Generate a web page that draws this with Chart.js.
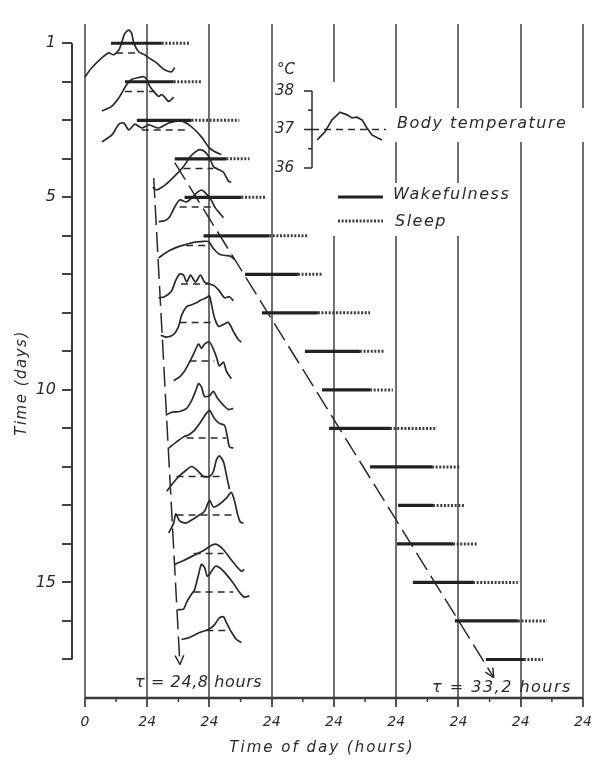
<!DOCTYPE html>
<html>
<head>
<meta charset="utf-8">
<script src="https://cdn.jsdelivr.net/npm/chart.js@4/dist/chart.umd.min.js"></script>
<style>
  body { margin: 0; background: #fff; }
  canvas { display: block; }
</style>
</head>
<body>
<canvas id="rhythmChart" width="603" height="765"></canvas>
<script>
// days of the experiment, one row each
const days = [1, 2, 3, 4, 5, 6, 7, 8, 9, 10, 11, 12, 13, 14, 15, 16, 17];
const dayLabels = [1, 5, 10, 15];

// hours on the running time axis (each line = one 24 h period)
const hourTicks = [0, 24, 48, 72, 96, 120, 144, 168, 192];
const hourLabels = ["0", "24", "24", "24", "24", "24", "24", "24", "24"];

// wakefulness onset, wake end (= sleep onset), sleep end, in hours
const wakeStart = [10.0, 15.4, 20.0, 34.6, 38.4, 45.7, 61.7, 68.2, 84.8, 91.4, 94.1, 109.9, 120.7, 120.3, 126.4, 142.6, 154.6];
const wakeEnd   = [29.6, 34.2, 41.1, 54.5, 60.3, 71.0, 82.1, 89.8, 106.0, 109.9, 117.6, 133.8, 134.2, 141.9, 149.6, 166.9, 169.2];
const sleepEnd  = [40.7, 44.9, 59.5, 63.4, 69.9, 86.0, 91.4, 109.9, 115.7, 118.7, 135.7, 144.9, 146.5, 151.1, 166.9, 178.1, 176.6];

// rectal temperature per day, [hour, °C]; 1 °C is drawn as one day row
const tempCurves = [
  [[0,36.38],[2.7,36.62],[6.5,36.87],[9.2,37.0],[11.1,36.95],[13.1,37.08],[14.2,37.28],[15.4,37.51],[16.9,37.59],[18.0,37.51],[18.8,37.26],[20.7,37.03],[23.0,36.95],[24.6,36.87],[27.6,36.74],[30.7,36.56],[33.4,36.51],[34.6,36.62]],
  [[6.5,36.49],[10.4,36.62],[13.4,36.87],[16.1,37.18],[18.0,37.31],[20.7,37.36],[22.7,37.38],[23.8,37.31],[25.0,37.13],[26.5,37.0],[28.4,36.87],[29.6,36.92],[30.7,36.85],[32.3,36.74],[34.2,36.85]],
  [[6.5,36.69],[10.4,36.87],[13.1,37.15],[15.0,37.18],[16.9,37.0],[19.2,37.15],[21.9,37.05],[24.6,37.13],[28.4,37.05],[32.3,37.18],[37.2,37.23],[41.1,37.08],[44.9,36.82],[47.6,36.56],[49.9,36.44],[52.6,36.36]],
  [[26.1,36.51],[27.6,36.44],[30.3,36.54],[32.6,36.67],[35.3,36.85],[38.0,37.05],[40.3,37.28],[42.2,37.41],[44.2,37.49],[46.1,37.44],[48.0,37.28],[49.5,37.05],[51.5,36.97],[53.4,36.9],[55.3,36.67],[56.4,36.64]],
  [[28.4,36.62],[30.7,36.64],[32.6,36.74],[34.6,37.0],[36.5,37.18],[39.2,37.13],[41.1,37.23],[43.0,37.36],[44.9,37.44],[46.5,37.36],[48.4,37.21],[50.3,36.97],[51.8,36.85],[53.4,36.72]],
  [[28.4,36.67],[29.6,36.74],[32.6,36.87],[36.1,36.97],[39.2,37.03],[41.9,37.08],[44.9,37.10],[47.6,37.10],[49.5,36.92],[51.8,36.77],[54.1,36.74],[56.1,36.72],[57.6,36.64]],
  [[28.4,36.64],[30.7,36.67],[33.4,36.82],[34.9,37.08],[36.5,37.26],[38.0,37.23],[39.2,37.05],[40.7,37.23],[42.6,37.05],[44.5,37.23],[46.1,37.05],[48.0,37.0],[49.9,36.95],[51.8,36.82],[53.8,36.64],[55.7,36.67],[57.2,36.56]],
  [[29.2,36.67],[31.5,36.62],[34.2,36.69],[36.1,36.9],[37.2,37.18],[39.2,37.41],[41.1,37.46],[43.0,37.51],[44.9,37.59],[46.8,37.64],[48.0,37.69],[48.8,37.46],[49.9,37.13],[51.5,36.9],[53.4,36.95],[55.3,37.0],[57.2,36.77],[59.1,36.56],[60.3,36.49]],
  [[34.2,36.49],[36.5,36.59],[38.4,36.74],[40.3,36.97],[42.2,37.23],[43.8,37.44],[44.9,37.33],[46.1,37.44],[48.0,37.49],[49.5,37.31],[50.7,37.10],[51.8,36.87],[53.4,36.97],[54.5,36.74],[56.4,36.54]],
  [[31.1,36.59],[33.4,36.67],[36.5,36.69],[39.2,36.77],[41.1,36.97],[42.6,37.21],[43.8,37.41],[44.9,37.33],[46.1,37.08],[48.0,37.10],[49.5,37.21],[51.1,37.03],[53.4,36.85],[55.3,36.74],[57.2,36.77]],
  [[32.3,36.74],[35.3,36.90],[38.0,37.03],[39.9,37.08],[41.9,37.18],[44.2,37.38],[46.8,37.64],[48.0,37.72],[49.9,37.51],[51.8,37.38],[53.8,37.33],[54.9,37.03],[55.7,36.77],[57.2,36.74]],
  [[31.5,36.62],[34.2,36.85],[36.1,37.0],[38.4,37.13],[41.1,37.26],[43.0,37.18],[45.7,37.0],[48.0,37.0],[49.5,37.13],[50.7,37.44],[51.8,37.54],[53.4,37.38],[54.5,37.05],[55.7,36.67]],
  [[32.3,36.54],[34.2,36.79],[35.0,37.03],[36.5,36.85],[38.8,36.79],[41.1,36.87],[43.4,36.97],[46.1,37.10],[48.0,37.38],[49.5,37.21],[51.8,37.28],[54.5,37.44],[56.4,37.59],[57.6,37.38],[58.8,37.03],[59.9,36.82],[61.1,36.79]],
  [[34.6,36.72],[38.0,36.82],[41.9,36.95],[45.7,37.08],[49.2,37.23],[51.1,37.23],[53.4,37.10],[55.7,36.90],[58.4,36.67],[60.3,36.54],[61.4,36.59]],
  [[35.7,36.54],[38.0,36.56],[39.2,36.74],[41.1,36.95],[42.2,37.05],[43.8,37.46],[44.9,37.72],[46.1,37.64],[47.2,37.41],[48.8,37.54],[50.3,37.67],[52.2,37.62],[54.5,37.46],[57.2,37.23],[59.5,37.0],[61.4,36.87],[63.4,36.90]],
  [[37.2,36.77],[40.3,36.82],[44.2,36.95],[47.6,37.03],[49.9,37.15],[51.8,37.33],[53.4,37.36],[54.5,37.21],[56.4,36.97],[58.4,36.77],[60.3,36.69]]
];
// hour span of the dashed 37 °C reference under each curve
const refSpans = [[12,20],[15.4,26.9],[21.9,39.9],[38,49.5],[36.5,48.8],[39,47.6],[37,47.6],[36.5,50.7],[40.3,49.9],null,[39.2,54.5],[35.3,53.4],[35.3,57.2],[41.9,53.4],[41.9,57.2],[46.8,55.7]];
const tempRowOffset = 0.25;   // 37 °C line sits a quarter row below the day
const refTemp = 37;

// free-running periods: start [hour, day], end day, period in hours
const periods = [24.8, 33.2];
const trendStart = [[26.5, 4.5], [34.6, 4.1]];
const trendEndDay = [17.13, 17.47];
const periodLabels = ["τ = 24,8 hours", "τ = 33,2 hours"];

// key curve: [hours after the scale bracket, °C]
const keyCurve = [[2,36.73],[5,36.94],[7.7,37.25],[10.8,37.45],[13.5,37.38],[15.4,37.30],[17.3,37.32],[19.3,37.25],[21.2,37.04],[23.1,36.86],[25.4,36.78],[27,36.73]];
const keyTicks = [36, 36.5, 37, 37.5, 38];

const ink = "#2a2a2a";
const gridInk = "#707070";
const font = "'DejaVu Sans', sans-serif";

const datasets = [];
const seg = (pts, extra) => Object.assign({
  data: pts, borderColor: ink, borderWidth: 1.7, pointRadius: 0,
  fill: false, tension: 0, borderCapStyle: "butt"
}, extra);

days.forEach((d, i) => {
  datasets.push(seg([{ x: wakeStart[i], y: d }, { x: wakeEnd[i], y: d }], { borderWidth: 3.2, borderColor: "#222" }));
  datasets.push(seg([{ x: wakeEnd[i], y: d }, { x: sleepEnd[i], y: d }], { borderWidth: 3, borderColor: "#3c3c3c", borderDash: [2, 1.6] }));
});

tempCurves.forEach((curve, i) => {
  const base = days[i] + tempRowOffset;
  datasets.push(seg(curve.map(p => ({ x: p[0], y: base - (p[1] - refTemp) })), { tension: 0.25 }));
  if (refSpans[i]) {
    datasets.push(seg(refSpans[i].map(h => ({ x: h, y: base })), { borderDash: [7, 5], borderWidth: 1.5 }));
  }
});

periods.forEach((tau, i) => {
  const [h0, d0] = trendStart[i];
  const d1 = trendEndDay[i];
  datasets.push(seg([{ x: h0, y: d0 }, { x: h0 + (tau - 24) * (d1 - d0), y: d1 }], { borderDash: [20, 7], borderWidth: 1.5, trend: true }));
});

function txt(ctx, s, x, y, opts) {
  ctx.save();
  ctx.font = opts.font;
  ctx.fillStyle = ink;
  ctx.textAlign = opts.align || "left";
  ctx.textBaseline = "middle";
  if (opts.spacing) ctx.letterSpacing = opts.spacing + "px";
  if (opts.rotate) { ctx.translate(x, y); ctx.rotate(opts.rotate); ctx.fillText(s, 0, 0); }
  else ctx.fillText(s, x, y);
  ctx.restore();
}

const annotations = {
  id: "annotations",
  beforeDatasetsDraw(chart) {
    const { ctx, chartArea, scales: { x, y } } = chart;
    ctx.save();
    // key text breaks the grid lines
    ctx.fillStyle = "#fff";
    ctx.fillRect(280, 82, 112, 154);
    ctx.fillRect(392, 108, 200, 34);
    ctx.fillRect(388, 183, 130, 53);

    // axis lines
    ctx.strokeStyle = "#3a3a3a";
    ctx.lineWidth = 2.5;
    ctx.beginPath();
    ctx.moveTo(x.getPixelForValue(0), chartArea.bottom);
    ctx.lineTo(x.getPixelForValue(192), chartArea.bottom);
    ctx.stroke();
    ctx.lineWidth = 2;
    ctx.beginPath();
    ctx.moveTo(chartArea.left, y.getPixelForValue(days[0]));
    ctx.lineTo(chartArea.left, y.getPixelForValue(days[days.length - 1]));
    ctx.stroke();
    // half-day marks
    ctx.lineWidth = 1.5;
    for (let h = 12; h < 192; h += 24) {
      const px = x.getPixelForValue(h);
      ctx.beginPath();
      ctx.moveTo(px, chartArea.bottom);
      ctx.lineTo(px, chartArea.bottom + 4);
      ctx.stroke();
    }
    ctx.restore();
  },
  afterDatasetsDraw(chart) {
    const { ctx, scales: { x, y } } = chart;
    // arrow heads on the period lines
    chart.data.datasets.forEach((ds, i) => {
      if (!ds.trend) return;
      const pts = chart.getDatasetMeta(i).data;
      const a = pts[pts.length - 2], b = pts[pts.length - 1];
      const ang = Math.atan2(b.y - a.y, b.x - a.x);
      ctx.save();
      ctx.strokeStyle = ink;
      ctx.lineWidth = 1.5;
      ctx.beginPath();
      [0.45, -0.45].forEach(off => {
        ctx.moveTo(b.x, b.y);
        ctx.lineTo(b.x - 10 * Math.cos(ang + off), b.y - 10 * Math.sin(ang + off));
      });
      ctx.stroke();
      ctx.restore();
    });

    // temperature key
    const unit = y.getPixelForValue(2) - y.getPixelForValue(1);
    const hourPx = x.getPixelForValue(24) - x.getPixelForValue(0);
    const kx = 312, k37 = 129.5;
    const ky = t => k37 - (t - refTemp) * unit;
    ctx.save();
    ctx.strokeStyle = ink;
    ctx.lineWidth = 1.5;
    ctx.beginPath();
    ctx.moveTo(kx, ky(38));
    ctx.lineTo(kx, ky(36));
    keyTicks.forEach(t => {
      const len = (t === 37.5 || t === 36.5) ? 4 : 8;
      ctx.moveTo(kx - len, ky(t));
      ctx.lineTo(kx, ky(t));
    });
    ctx.stroke();
    ctx.setLineDash([7, 5]);
    ctx.beginPath();
    ctx.moveTo(kx, ky(37));
    ctx.lineTo(kx + 28.5 * hourPx / 24, ky(37));
    ctx.stroke();
    ctx.setLineDash([]);
    ctx.lineWidth = 1.7;
    ctx.beginPath();
    keyCurve.forEach((p, i) => {
      const px = kx + p[0] * hourPx / 24, py = ky(p[1]);
      i ? ctx.lineTo(px, py) : ctx.moveTo(px, py);
    });
    ctx.stroke();

    // wakefulness / sleep samples
    ctx.lineWidth = 3.2;
    ctx.strokeStyle = "#222";
    ctx.beginPath(); ctx.moveTo(338, 197); ctx.lineTo(383, 197); ctx.stroke();
    ctx.lineWidth = 3;
    ctx.strokeStyle = "#3c3c3c";
    ctx.setLineDash([2, 1.6]);
    ctx.beginPath(); ctx.moveTo(338, 221); ctx.lineTo(383, 221); ctx.stroke();
    ctx.restore();

    const f15 = "italic 15px " + font;
    const f16 = "italic 16px " + font;
    txt(ctx, "°C", 277, 70, { font: f15 });
    txt(ctx, "38", 294, ky(38), { font: f15, align: "right" });
    txt(ctx, "37", 294, ky(37), { font: f15, align: "right" });
    txt(ctx, "36", 294, ky(36), { font: f15, align: "right" });
    txt(ctx, "Body temperature", 397, 124, { font: f16, spacing: 1.5 });
    txt(ctx, "Wakefulness", 393, 195, { font: f16, spacing: 1.5 });
    txt(ctx, "Sleep", 395, 222, { font: f16, spacing: 1.5 });

    txt(ctx, periodLabels[0], 135, 683, { font: f16, spacing: 0.6 });
    txt(ctx, periodLabels[1], 432, 688, { font: f16, spacing: 1.5 });
  },
  afterDraw(chart) {
    const { ctx } = chart;
    txt(ctx, "Time (days)", 22, 383, { font: "italic 15px " + font, spacing: 1.5, align: "center", rotate: -Math.PI / 2 });
    txt(ctx, "Time of day (hours)", 322, 748, { font: "italic 15px " + font, spacing: 2, align: "center" });
  }
};

new Chart(document.getElementById("rhythmChart"), {
  type: "line",
  data: { datasets },
  options: {
    responsive: false,
    animation: false,
    layout: { padding: { top: 24, right: 20, left: 0, bottom: 0 } },
    plugins: { legend: { display: false }, tooltip: { enabled: false } },
    elements: { point: { radius: 0 } },
    scales: {
      x: {
        type: "linear",
        min: -5,
        max: 192,
        afterBuildTicks: s => { s.ticks = hourTicks.map(v => ({ value: v })); },
        afterFit: s => { s.height = 67; },
        border: { display: false },
        grid: { color: gridInk, lineWidth: 2, tickLength: 9, tickColor: "#555", tickWidth: 2 },
        ticks: {
          autoSkip: false,
          maxRotation: 0,
          padding: 7,
          color: ink,
          font: { family: font, size: 14, style: "italic" },
          callback: (v, i) => hourLabels[i]
        }
      },
      y: {
        type: "linear",
        min: 0.5,
        max: 18,
        reverse: true,
        afterBuildTicks: s => { s.ticks = days.map(v => ({ value: v })); },
        afterFit: s => { s.width = 72; },
        border: { display: false },
        grid: { drawOnChartArea: false, tickLength: 10, color: "#444", lineWidth: 2 },
        ticks: {
          autoSkip: false,
          padding: 6,
          color: ink,
          font: { family: font, size: 16, style: "italic" },
          callback: v => dayLabels.includes(v) ? String(v) : ""
        }
      }
    }
  },
  plugins: [annotations]
});
</script>
</body>
</html>
